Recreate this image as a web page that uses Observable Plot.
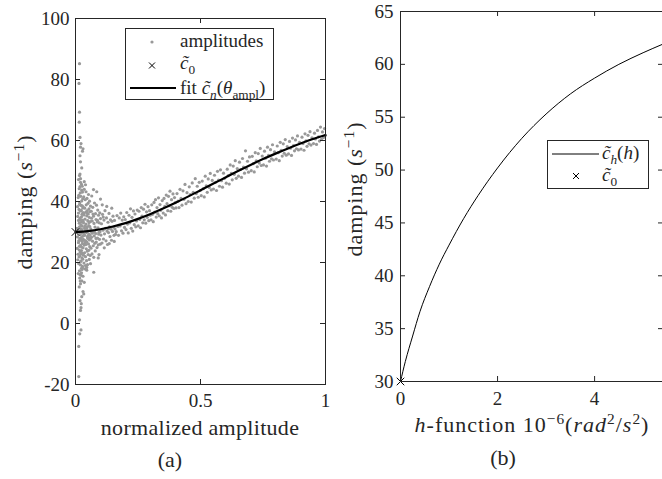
<!DOCTYPE html>
<html><head><meta charset="utf-8">
<script src="https://cdn.jsdelivr.net/npm/d3@7"></script>
<script src="https://cdn.jsdelivr.net/npm/@observablehq/plot@0.6"></script>
<style>
html,body{margin:0;padding:0;background:#fff;overflow:hidden;width:662px;height:479px}
#wrap{position:relative;width:662px;height:479px;overflow:hidden;background:#fff}
#wrap svg{position:absolute;top:0}
</style></head><body><div id="wrap"></div>
<script>
const FONT = "'Liberation Serif', serif";
const INK = "#262626";

// ---------- data: panel (a) ----------
const amplitudes = [
// outlier streak near zero amplitude
[0.016,85.2],[0.014,78.7],[0.016,69.3],[0.015,66],[0.018,61],[0.02,57.8],[0.03,57.3],[0.018,55],[0.02,53],[0.025,51],[0.018,49],[0.02,47.5],[0.022,59],[0.028,56.5],
[0.013,-17.4],[0.013,-7.5],[0.017,-3.4],[0.022,-2.1],[0.016,1.2],[0.02,4.3],[0.023,6.5],[0.022,5.2],[0.018,7.5],[0.033,9.7],[0.03,10.5],[0.025,8.8],[0.02,13],[0.015,12],[0.025,14],[0.03,15.5],[0.018,16],[0.035,13.5],[0.073,16.8],[0.06,19.6],[0.045,17.5],[0.04,19],[0.028,18.2],[0.022,20.5],
// dense cloud
[0.006,31.2],[0.008,28.4],[0.009,35.1],[0.010,22.7],[0.011,41.3],[0.012,26.5],[0.012,33.8],[0.013,19.6],[0.014,37.4],[0.014,29.9],[0.015,24.1],[0.015,44.2],[0.016,31.7],[0.016,17.3],[0.017,27.8],[0.017,39.6],[0.018,22.2],[0.018,34.5],[0.019,29.1],[0.019,42.8],[0.020,25.6],[0.020,36.9],[0.021,20.4],[0.021,31.0],[0.022,38.7],[0.022,27.3],[0.023,15.8],[0.023,33.2],[0.024,23.9],[0.024,45.6],[0.025,29.7],[0.025,40.2],[0.026,21.5],[0.026,35.8],[0.027,26.9],[0.027,31.9],[0.028,18.7],[0.028,43.1],[0.029,28.6],[0.029,37.9],[0.030,24.8],[0.030,33.5],
[0.007,24.6],[0.008,38.3],[0.009,20.9],[0.010,30.5],[0.011,16.4],[0.012,36.2],[0.013,27.1],[0.013,42.0],[0.014,21.8],[0.015,32.9],[0.016,25.3],[0.016,39.0],[0.017,14.9],[0.018,30.2],[0.018,44.9],[0.019,23.4],[0.020,34.0],[0.020,19.2],[0.021,27.5],[0.021,41.7],[0.022,32.3],[0.022,22.9],[0.023,37.1],[0.023,28.2],[0.024,18.1],[0.024,35.0],[0.025,25.0],[0.025,43.7],[0.026,30.8],[0.026,17.7],[0.027,38.6],[0.027,23.0],[0.028,33.9],[0.028,26.2],[0.029,21.1],[0.029,40.9],[0.030,30.0],[0.030,36.4],[0.012,47.2],[0.02,46.3],[0.016,48.5],[0.024,16.6],[0.019,13.9],[0.027,45.0],
[0.031,27.6],[0.031,38.2],[0.032,22.4],[0.032,33.0],[0.033,41.5],[0.033,29.4],[0.034,19.8],[0.034,35.6],[0.035,25.7],[0.035,44.0],[0.036,31.3],[0.036,23.2],[0.037,37.8],[0.037,28.9],[0.038,17.9],[0.038,34.2],[0.039,26.4],[0.039,40.6],[0.040,30.7],[0.040,21.9],[0.041,36.5],[0.041,27.0],[0.042,43.2],[0.042,32.6],[0.043,24.5],[0.043,38.9],[0.044,29.8],[0.044,20.6],[0.045,35.3],[0.045,26.8],[0.046,41.0],[0.046,31.5],[0.047,23.7],[0.047,37.0],[0.048,28.4],[0.048,19.3],[0.049,33.7],[0.049,27.9],[0.050,39.4],[0.050,30.3],[0.051,22.6],[0.051,35.9],[0.052,26.1],[0.052,42.3],[0.053,32.1],[0.053,24.0],[0.054,37.6],[0.054,29.2],[0.055,21.0],[0.055,34.8],[0.056,27.4],[0.056,40.1],[0.057,31.8],[0.057,25.2],[0.058,36.7],[0.058,29.0],[0.059,22.3],[0.059,33.4],[0.060,27.8],[0.060,38.5],
[0.033,36.0],[0.036,27.3],[0.039,32.0],[0.042,25.9],[0.045,30.9],[0.048,36.1],[0.051,28.8],[0.054,33.1],[0.057,28.1],[0.04,45.5],[0.035,46.5],[0.045,18.4],
[0.061,31.0],[0.062,24.7],[0.063,36.8],[0.064,28.3],[0.065,41.8],[0.066,22.8],[0.067,33.6],[0.068,27.0],[0.069,38.1],[0.070,30.4],[0.071,25.5],[0.072,35.2],[0.073,21.7],[0.074,32.8],[0.075,28.7],[0.076,39.5],[0.077,26.3],[0.078,31.6],[0.079,23.8],[0.080,36.0],[0.081,29.5],[0.082,34.1],[0.083,26.7],[0.084,38.8],[0.085,30.9],[0.086,24.9],[0.087,33.3],[0.088,28.0],[0.089,37.2],[0.090,31.4],[0.091,25.8],[0.092,35.5],[0.093,29.3],[0.094,22.6],[0.095,33.0],[0.096,27.6],[0.097,36.3],[0.098,30.1],[0.099,26.0],[0.100,34.4],
[0.064,34.5],[0.07,35.9],[0.076,30.0],[0.082,27.9],[0.088,33.8],[0.094,29.9],[0.063,30.2],[0.067,29.6],[0.085,43.2],[0.1,40.8],[0.072,43.9],[0.091,21.5],
[0.102,29.0],[0.104,32.7],[0.106,26.4],[0.108,35.8],[0.110,30.6],[0.112,27.7],[0.114,33.9],[0.116,29.4],[0.118,37.0],[0.120,31.2],[0.122,27.1],[0.124,34.6],[0.126,30.3],[0.128,25.9],[0.130,33.2],[0.132,29.8],[0.134,36.1],[0.136,31.7],[0.138,28.5],[0.140,34.0],[0.142,30.9],[0.144,27.3],[0.146,33.5],[0.148,30.2],[0.150,35.2],[0.152,31.6],[0.154,28.9],[0.156,33.8],[0.158,31.0],[0.160,29.2],
[0.107,38.9],[0.115,24.8],[0.125,38.4],[0.135,26.2],[0.145,37.8],[0.155,26.9],[0.111,34.9],[0.131,31.1],
// band along the fit
[0.163,30.1],[0.166,35.4],[0.169,31.8],[0.172,28.9],[0.175,34.6],[0.178,32.0],[0.181,36.2],[0.184,30.4],[0.187,33.9],[0.190,29.6],[0.193,35.0],[0.196,31.5],[0.199,34.1],
[0.202,30.8],[0.205,36.4],[0.208,32.6],[0.211,29.7],[0.214,35.5],[0.217,33.0],[0.220,37.6],[0.223,31.2],[0.226,34.8],[0.229,30.3],[0.232,36.9],[0.235,32.4],[0.238,35.9],[0.241,31.7],[0.244,33.6],[0.247,37.2],
[0.251,32.0],[0.254,36.8],[0.257,34.1],[0.260,31.4],[0.263,38.0],[0.266,35.2],[0.269,33.0],[0.272,37.5],[0.275,34.0],[0.278,39.1],[0.281,32.9],[0.284,36.6],[0.287,34.8],[0.290,38.3],[0.293,33.7],[0.296,37.0],[0.299,35.5],
[0.302,34.0],[0.305,38.9],[0.308,35.8],[0.311,33.4],[0.314,39.7],[0.317,36.5],[0.320,40.6],[0.323,34.9],[0.326,38.0],[0.329,36.0],[0.332,41.2],[0.335,35.3],[0.338,39.0],[0.341,37.1],[0.344,34.6],[0.347,40.3],
[0.351,36.2],[0.354,41.0],[0.357,38.4],[0.360,35.6],[0.363,42.1],[0.366,39.3],[0.369,37.0],[0.372,41.7],[0.375,38.6],[0.378,43.4],[0.381,36.8],[0.384,40.6],[0.387,38.1],[0.390,42.5],[0.393,37.7],[0.396,41.3],[0.399,39.6],
[0.402,37.9],[0.406,42.6],[0.410,40.1],[0.414,38.0],[0.418,44.0],[0.422,41.0],[0.426,38.8],[0.430,43.5],[0.434,40.7],[0.438,45.6],[0.442,39.3],[0.446,42.9],
[0.451,40.0],[0.455,44.8],[0.459,42.3],[0.463,39.8],[0.467,46.1],[0.471,43.0],[0.475,41.1],[0.479,47.5],[0.483,42.6],[0.487,45.0],[0.491,41.4],[0.495,46.3],[0.499,43.6],
[0.503,41.9],[0.507,46.7],[0.511,44.2],[0.515,41.5],[0.519,48.3],[0.523,45.1],[0.527,43.0],[0.531,47.4],[0.535,44.6],[0.539,49.2],[0.543,43.8],[0.547,46.9],
[0.552,44.1],[0.556,48.6],[0.560,46.3],[0.564,43.6],[0.568,49.9],[0.572,47.0],[0.576,45.0],[0.580,50.4],[0.584,46.8],[0.588,44.7],[0.592,49.3],[0.596,47.6],
[0.603,46.0],[0.607,50.6],[0.611,48.5],[0.615,45.7],[0.619,52.0],[0.623,49.2],[0.627,47.1],[0.631,51.6],[0.635,48.9],[0.639,53.4],[0.643,47.6],[0.647,50.8],
[0.652,48.3],[0.656,52.9],[0.660,50.5],[0.664,47.9],[0.668,54.1],[0.672,51.3],[0.676,49.3],[0.680,56.6],[0.684,50.7],[0.688,53.2],[0.692,49.6],[0.696,54.6],
[0.703,50.1],[0.707,54.8],[0.711,52.4],[0.715,49.7],[0.719,56.0],[0.723,53.3],[0.727,51.4],[0.731,55.7],[0.735,52.6],[0.739,57.4],[0.743,51.8],[0.747,54.9],
[0.752,52.0],[0.756,56.5],[0.760,54.2],[0.764,51.6],[0.768,57.8],[0.772,55.1],[0.776,53.2],[0.780,57.0],[0.784,54.0],[0.788,58.6],[0.792,53.6],[0.796,56.3],
[0.803,53.9],[0.807,58.2],[0.811,56.0],[0.815,53.4],[0.819,59.4],[0.823,56.8],[0.827,54.9],[0.831,58.9],[0.835,55.8],[0.839,60.3],[0.843,55.2],[0.847,58.0],
[0.852,55.6],[0.856,59.7],[0.860,57.5],[0.864,55.1],[0.868,60.8],[0.872,58.3],[0.876,56.6],[0.880,60.2],[0.884,57.3],[0.888,61.5],[0.892,56.9],[0.896,59.4],
[0.902,57.2],[0.906,61.1],[0.910,59.0],[0.914,56.8],[0.918,62.2],[0.922,59.9],[0.926,58.1],[0.930,61.7],[0.934,58.9],[0.938,62.9],[0.942,58.5],[0.946,60.9],
[0.952,59.0],[0.956,62.4],[0.960,60.5],[0.964,58.7],[0.968,63.3],[0.972,61.2],[0.976,59.8],[0.980,64.4],[0.984,60.4],[0.988,62.8],[0.992,61.0],[0.996,63.9],[0.999,61.6]
];
const fitX = [0,0.05,0.1,0.15,0.2,0.25,0.3,0.35,0.4,0.45,0.5,0.55,0.6,0.65,0.7,0.75,0.8,0.85,0.9,0.95,1.0];
const fitY = [30,30.3,30.9,31.8,32.9,34.3,35.9,37.7,39.6,41.6,43.7,45.8,47.9,50.0,52.0,53.9,55.7,57.4,59.0,60.5,61.8];
const c0 = 30;
const xTicksA = [0, 0.5, 1];
const yTicksA = [-20, 0, 20, 40, 60, 80, 100];

// ---------- data: panel (b) ----------
const hX = [0,0.1,0.25,0.4,0.6,0.8,1.0,1.3,1.6,2.0,2.5,3.0,3.5,4.0,4.5,5.0,5.4];
const hY = [30,31.9,34.3,36.6,39.0,41.1,42.9,45.4,47.6,50.2,53.0,55.3,57.2,58.7,60.0,61.1,61.9];
const xTicksB = [0, 2, 4];
const yTicksB = [30, 35, 40, 45, 50, 55, 60, 65];

// ---------- helpers ----------
function rich(sel, parts) {
  let shift = 0;
  for (const [t, s] of parts) {
    const ts = sel.append("tspan").text(t);
    let target = 0;
    if (s.includes("sub")) { target = 5; ts.style("font-size", "0.7em"); }
    if (s.includes("sup")) { target = -8; ts.style("font-size", "0.7em"); }
    if (s.includes("i")) ts.style("font-style", "italic");
    if (target !== shift) { ts.attr("dy", target - shift); shift = target; }
  }
}
function txt(svg, x, y, size, anchor, parts, rotate, spacing) {
  const t = svg.append("text")
    .style("font-family", FONT).style("font-size", size + "px").attr("fill", INK)
    .attr("text-anchor", anchor);
  if (spacing) t.style("letter-spacing", spacing + "px");
  if (rotate) t.attr("transform", `translate(${x},${y}) rotate(-90)`);
  else t.attr("x", x).attr("y", y);
  rich(t, parts);
  return t;
}
const TILDE_C = "c\u0303";
const H = 479;

// ---------- panel (a) ----------
const frameWA = 250, frameHA = 366;
const plotA = Plot.plot({
  width: 340, height: H,
  marginTop: 18, marginLeft: 75, marginRight: 15, marginBottom: H - 384,
  style: {fontFamily: FONT, fontSize: "19px", color: INK, background: "transparent"},
  x: {domain: [0, 1]},
  y: {domain: [-20, 100]},
  marks: [
    Plot.dot(amplitudes, {x: d => d[0], y: d => d[1], r: 1.6, fill: "#999999", stroke: "none"}),
    Plot.line(fitX.map((_, i) => i), {x: i => fitX[i], y: i => fitY[i], stroke: "black", strokeWidth: 2.2, curve: "monotone-x"}),
    Plot.dot([c0], {x: () => 0, y: d => d, symbol: "times", r: 3.5, stroke: "black", strokeWidth: 1}),
    Plot.ruleX(xTicksA, {x: d => d, insetTop: frameHA - 5, stroke: INK}),
    Plot.ruleX(xTicksA, {x: d => d, insetBottom: frameHA - 5, stroke: INK}),
    Plot.ruleY(yTicksA, {y: d => d, insetRight: frameWA - 5, stroke: INK}),
    Plot.ruleY(yTicksA, {y: d => d, insetLeft: frameWA - 5, stroke: INK}),
    Plot.frame({stroke: INK}),
    Plot.axisX(xTicksA, {tickSize: 0, tickPadding: 9, tickFormat: d => String(d), label: null}),
    Plot.axisY(yTicksA, {tickSize: 0, tickPadding: 6, tickFormat: d => String(d), label: null})
  ]
});
plotA.style.left = "0px";
document.getElementById("wrap").appendChild(plotA);
const sA = d3.select(plotA);
// legend (a)
sA.append("rect").attr("x", 125.5).attr("y", 28.5).attr("width", 148).attr("height", 71)
  .attr("fill", "white").attr("stroke", INK).attr("stroke-width", 1);
sA.append("circle").attr("cx", 152).attr("cy", 42).attr("r", 1.6).attr("fill", "#999999");
sA.append("path").attr("d", "M149,62.5L155,68.5M155,62.5L149,68.5").attr("stroke", "black").attr("stroke-width", 1);
sA.append("line").attr("x1", 130).attr("x2", 176).attr("y1", 88).attr("y2", 88).attr("stroke", "black").attr("stroke-width", 2.2);
txt(sA, 180, 47, 19, "start", [["amplitudes", ""]]);
txt(sA, 180, 69, 19, "start", [[TILDE_C, "i"], ["0", "sub"]]);
txt(sA, 180, 94, 19, "start", [["fit ", ""], [TILDE_C, "i"], ["n", "subi"], ["(", ""], ["\u03b8", "i"], ["ampl", "sub"], [")", ""]]);
// labels (a)
txt(sA, 200, 435, 22, "middle", [["normalized amplitude", ""]], false, 0.3);
txt(sA, 32, 202, 22, "middle", [["damping (", ""], ["s", "i"], ["\u22121", "sup"], [")", ""]], true, 1);
txt(sA, 170, 467, 22, "middle", [["(a)", ""]]);

// ---------- panel (b) ----------
const offB = 330;
const frameWB = 663 - 400, frameHB = 381 - 11;
const plotB = Plot.plot({
  width: 340, height: H,
  marginTop: 11, marginLeft: 400 - offB, marginRight: 340 - (663 - offB), marginBottom: H - 381,
  style: {fontFamily: FONT, fontSize: "19px", color: INK, background: "transparent"},
  x: {domain: [0, 5.42]},
  y: {domain: [30, 65]},
  marks: [
    Plot.line(hX.map((_, i) => i), {x: i => hX[i], y: i => hY[i], stroke: "black", strokeWidth: 1, curve: "monotone-x"}),
    Plot.dot([c0], {x: () => 0, y: d => d, symbol: "times", r: 3.5, stroke: "black", strokeWidth: 1}),
    Plot.ruleX(xTicksB, {x: d => d, insetTop: frameHB - 5, stroke: INK}),
    Plot.ruleX(xTicksB, {x: d => d, insetBottom: frameHB - 5, stroke: INK}),
    Plot.ruleY(yTicksB, {y: d => d, insetRight: frameWB - 5, stroke: INK}),
    Plot.ruleY(yTicksB, {y: d => d, insetLeft: frameWB - 5, stroke: INK}),
    Plot.frame({stroke: INK}),
    Plot.axisX(xTicksB, {tickSize: 0, tickPadding: 10, tickFormat: d => String(d), label: null}),
    Plot.axisY(yTicksB, {tickSize: 0, tickPadding: 7, tickFormat: d => String(d), label: null})
  ]
});
plotB.style.left = offB + "px";
document.getElementById("wrap").appendChild(plotB);
const sB = d3.select(plotB);
// legend (b)
sB.append("rect").attr("x", 547.5 - offB).attr("y", 140.5).attr("width", 101).attr("height", 48)
  .attr("fill", "white").attr("stroke", INK).attr("stroke-width", 1);
sB.append("line").attr("x1", 552 - offB).attr("x2", 599 - offB).attr("y1", 154).attr("y2", 154).attr("stroke", "black").attr("stroke-width", 1);
sB.append("path").attr("d", `M${573 - offB},${173}L${579 - offB},${179}M${579 - offB},${173}L${573 - offB},${179}`).attr("stroke", "black").attr("stroke-width", 1);
txt(sB, 602 - offB, 159, 19, "start", [[TILDE_C, "i"], ["h", "subi"], ["(", ""], ["h", "i"], [")", ""]]);
txt(sB, 602 - offB, 181, 19, "start", [[TILDE_C, "i"], ["0", "sub"]]);
// labels (b)
txt(sB, 532 - offB, 432, 22, "middle", [["h", "i"], ["-function 10", ""], ["\u22126", "sup"], ["(", ""], ["rad", "i"], ["2", "sup"], ["/", ""], ["s", "i"], ["2", "sup"], [")", ""]], false, 1);
txt(sB, 362 - offB, 189, 22, "middle", [["damping (", ""], ["s", "i"], ["\u22121", "sup"], [")", ""]], true, 1);
txt(sB, 503 - offB, 465, 22, "middle", [["(b)", ""]]);
</script></body></html>
